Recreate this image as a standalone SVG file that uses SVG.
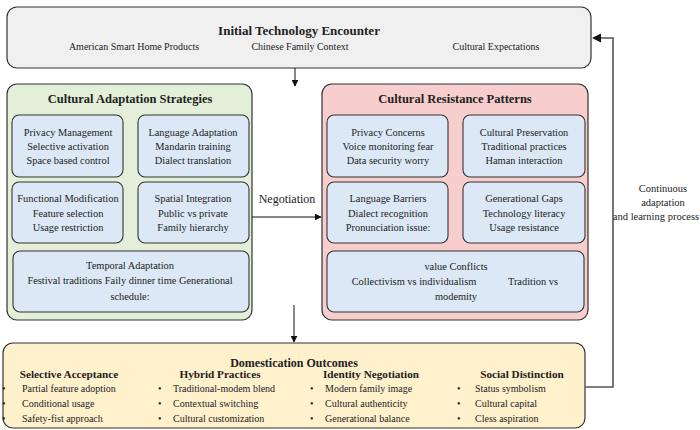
<svg xmlns="http://www.w3.org/2000/svg" width="700" height="430" viewBox="0 0 700 430">
  <defs>
    <marker id="arrow" viewBox="0 0 10 10" refX="9" refY="5" markerWidth="7" markerHeight="7" orient="auto-start-reverse" markerUnits="userSpaceOnUse">
      <path d="M0,0 L10,5 L0,10 z" fill="#111"/>
    </marker>
    <style>
      text { font-family: "Liberation Serif", "Times New Roman", serif; fill: #222; }
      .title { font-size: 12.5px; font-weight: bold; text-anchor: middle; }
      .sub { font-size: 10px; text-anchor: middle; }
      .item { font-size: 10.4px; text-anchor: middle; }
      .head { font-size: 11.2px; font-weight: bold; text-anchor: middle; }
      .main { font-size: 12px; font-weight: bold; text-anchor: middle; }
      .bul { font-size: 10px; }
      .note { font-size: 10.5px; text-anchor: middle; }
      .panel { stroke: #333; stroke-width: 1.2; }
      .inner { fill: #dce8f6; stroke: #333; stroke-width: 1.1; }
      .edge { fill: none; stroke: #111; stroke-width: 1; }
      .loop { fill: none; stroke: #555; stroke-width: 1.6; }
    </style>
  </defs>

  <!-- Initial technology encounter -->
  <g id="encounter">
    <rect class="panel" x="7" y="7" width="584" height="61" rx="10" fill="#f0f0f0"/>
    <text class="title" x="299" y="35" style="font-size:13px">Initial Technology Encounter</text>
    <text class="sub" x="134" y="50">American Smart Home Products</text>
    <text class="sub" x="300" y="50">Chinese Family Context</text>
    <text class="sub" x="496" y="50">Cultural Expectations</text>
  </g>

  <!-- Adaptation strategies -->
  <g id="adaptation">
    <rect class="panel" x="7" y="84" width="245" height="236" rx="10" fill="#e3efd9"/>
    <text class="title" x="130" y="103">Cultural Adaptation Strategies</text>
    <g id="privacy-management">
      <rect class="inner" x="12" y="115" width="111" height="62" rx="7"/>
      <text class="item" x="68" y="136">Privacy Management</text>
      <text class="item" x="68" y="150">Selective activation</text>
      <text class="item" x="68" y="164">Space based control</text>
    </g>
    <g id="language-adaptation">
      <rect class="inner" x="138" y="115" width="111" height="62" rx="7"/>
      <text class="item" x="193" y="136">Language Adaptation</text>
      <text class="item" x="193" y="150">Mandarin training</text>
      <text class="item" x="193" y="164">Dialect translation</text>
    </g>
    <g id="functional-modification">
      <rect class="inner" x="12" y="182" width="111" height="61" rx="7"/>
      <text class="item" x="68" y="202">Functional Modification</text>
      <text class="item" x="68" y="217">Feature selection</text>
      <text class="item" x="68" y="231">Usage restriction</text>
    </g>
    <g id="spatial-integration">
      <rect class="inner" x="138" y="182" width="111" height="61" rx="7"/>
      <text class="item" x="193" y="202">Spatial Integration</text>
      <text class="item" x="193" y="217">Public vs private</text>
      <text class="item" x="193" y="231">Family hierarchy</text>
    </g>
    <g id="temporal-adaptation">
      <rect class="inner" x="13" y="251" width="236" height="61" rx="7"/>
      <text class="item" x="130" y="269">Temporal Adaptation</text>
      <text class="item" x="130" y="284">Festival traditions Faily dinner time Generational</text>
      <text class="item" x="130" y="300">schedule:</text>
    </g>
  </g>

  <!-- Resistance patterns -->
  <g id="resistance">
    <rect class="panel" x="322" y="84" width="266" height="236" rx="10" fill="#f8cdcd"/>
    <text class="title" x="455" y="103">Cultural Resistance Patterns</text>
    <g id="privacy-concerns">
      <rect class="inner" x="327" y="115" width="121" height="62" rx="7"/>
      <text class="item" x="388" y="136">Privacy Concerns</text>
      <text class="item" x="388" y="150">Voice monitoring fear</text>
      <text class="item" x="388" y="164">Data security worry</text>
    </g>
    <g id="cultural-preservation">
      <rect class="inner" x="463" y="115" width="122" height="62" rx="7"/>
      <text class="item" x="524" y="136">Cultural Preservation</text>
      <text class="item" x="524" y="150">Traditional practices</text>
      <text class="item" x="524" y="164">Haman interaction</text>
    </g>
    <g id="language-barriers">
      <rect class="inner" x="327" y="182" width="121" height="61" rx="7"/>
      <text class="item" x="388" y="202">Language Barriers</text>
      <text class="item" x="388" y="217">Dialect recognition</text>
      <text class="item" x="388" y="231">Pronunciation issue:</text>
    </g>
    <g id="generational-gaps">
      <rect class="inner" x="463" y="182" width="122" height="61" rx="7"/>
      <text class="item" x="524" y="202">Generational Gaps</text>
      <text class="item" x="524" y="217">Technology literacy</text>
      <text class="item" x="524" y="231">Usage resistance</text>
    </g>
    <g id="value-conflicts">
      <rect class="inner" x="327" y="251" width="257" height="61" rx="7"/>
      <text class="item" x="456" y="270">value Conflicts</text>
      <text class="item" x="414" y="285">Collectivism vs individualism</text>
      <text class="item" x="533" y="285">Tradition vs</text>
      <text class="item" x="456" y="300">modemity</text>
    </g>
  </g>

  <!-- Domestication outcomes -->
  <g id="outcomes">
    <rect class="panel" x="3" y="343" width="582" height="85" rx="10" fill="#fff1cc"/>
    <text class="main" x="294" y="367">Domestication Outcomes</text>
    <g id="selective-acceptance">
      <text class="head" x="69" y="378">Selective Acceptance</text>
      <text class="bul" x="2" y="392">•</text>
      <text class="bul" x="22" y="392">Partial feature adoption</text>
      <text class="bul" x="2" y="407">•</text>
      <text class="bul" x="22" y="407">Conditional usage</text>
      <text class="bul" x="2" y="422">•</text>
      <text class="bul" x="22" y="422">Safety-fist approach</text>
    </g>
    <g id="hybrid-practices">
      <text class="head" x="220" y="378">Hybrid Practices</text>
      <text class="bul" x="158" y="392">•</text>
      <text class="bul" x="173" y="392">Traditional-modem blend</text>
      <text class="bul" x="158" y="407">•</text>
      <text class="bul" x="173" y="407">Contextual switching</text>
      <text class="bul" x="158" y="422">•</text>
      <text class="bul" x="173" y="422">Cultural customization</text>
    </g>
    <g id="identity-negotiation">
      <text class="head" x="371" y="378">Identity Negotiation</text>
      <text class="bul" x="310" y="392">•</text>
      <text class="bul" x="325" y="392">Modern family image</text>
      <text class="bul" x="310" y="407">•</text>
      <text class="bul" x="325" y="407">Cultural authenticity</text>
      <text class="bul" x="310" y="422">•</text>
      <text class="bul" x="325" y="422">Generational balance</text>
    </g>
    <g id="social-distinction">
      <text class="head" x="522" y="378">Social Distinction</text>
      <text class="bul" x="457" y="392">•</text>
      <text class="bul" x="475" y="392">Status symbolism</text>
      <text class="bul" x="457" y="407">•</text>
      <text class="bul" x="475" y="407">Cultural capital</text>
      <text class="bul" x="457" y="422">•</text>
      <text class="bul" x="475" y="422">Cless aspiration</text>
    </g>
  </g>

  <!-- Connectors -->
  <g id="connectors">
    <line class="edge" x1="295" y1="68" x2="295" y2="86" marker-end="url(#arrow)"/>
    <line class="edge" x1="252" y1="217" x2="321" y2="217" marker-end="url(#arrow)"/>
    <text x="287" y="203" style="font-size:12px;text-anchor:middle">Negotiation</text>
    <line class="edge" x1="294" y1="305" x2="294" y2="342" marker-end="url(#arrow)"/>
    <polyline class="loop" points="585,387 613,387 613,38 600,38"/>
    <path d="M592,38 L601,33.5 L601,42.5 z" fill="#111"/>
    <text class="note" x="663" y="192">Continuous</text>
    <text class="note" x="663" y="206">adaptation</text>
    <text class="note" x="656" y="220">and learning process</text>
  </g>
</svg>
